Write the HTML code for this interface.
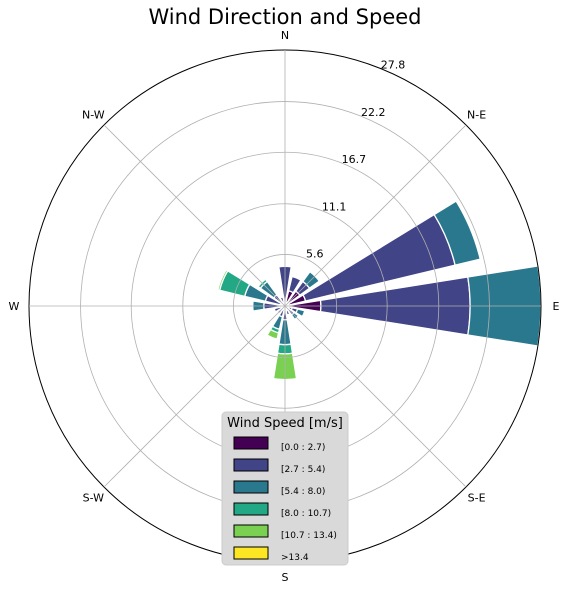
<!DOCTYPE html>
<html><head><meta charset="utf-8"><style>
body{margin:0;background:#fff;}
svg{display:block;font-family:"DejaVu Sans","Liberation Sans",sans-serif;}
</style></head><body>
<svg id="chart" width="568" height="591" viewBox="0 0 568 591">
<text x="285" y="24" font-size="21" text-anchor="middle">Wind Direction and Speed</text>
<g id="bars"></g>
<g id="grid"></g>
<g id="labels"></g>
<g id="legend"></g>
</svg>
<script>
const directions = ["N","NNE","NE","ENE","E","ESE","SE","SSE","S","SSW","SW","WSW","W","WNW","NW","NNW"];
// cumulative stacked values per direction (units of radial axis)
const cumN   = [0.5,4.3];
const cumNNE = [1.7,3.3];
const cumNE  = [2.0,3.3,4.6];
const cumENE = [2.3,19.0,21.8];
const cumE   = [3.9,20.1,27.8];
const cumESE = [0.8,1.4,2.2];
const cumSE  = [0.6,1.2,1.8];
const cumSSE = [0.5,1.0];
const cumS   = [0.5,1.5,4.2,5.2,8.0,8.1];
const cumSSW = [0.4,1.2,2.6,3.0,3.7];
const cumSW  = [0.5,1.0];
const cumWSW = [0.4,1.2];
const cumW   = [0.6,2.3,3.5];
const cumWNW = [0.5,2.2,4.5,7.3,7.5];
const cumNW  = [0.6,1.5,3.3,3.6];
const cumNNW = [0.3,1.0];
const stacks = [cumN,cumNNE,cumNE,cumENE,cumE,cumESE,cumSE,cumSSE,cumS,cumSSW,cumSW,cumWSW,cumW,cumWNW,cumNW,cumNNW];
const radialTicks = [5.6,11.1,16.7,22.2,27.8];
const binLabels = ["[0.0 : 2.7)","[2.7 : 5.4)","[5.4 : 8.0)","[8.0 : 10.7)","[10.7 : 13.4)",">13.4"];
const compassLabels = ["N","N-E","E","S-E","S","S-W","W","N-W"];

const colors = ["#440154","#414487","#2a788e","#22a884","#7ad151","#fde725"];
const cx=285, cy=306, R=256, rMax=27.8;
const NS="http://www.w3.org/2000/svg";
const rScale = v => v/rMax*R;
function pt(deg,r){const a=deg*Math.PI/180;return [cx+r*Math.sin(a), cy-r*Math.cos(a)];}
function mk(tag,attrs,parent){const e=document.createElementNS(NS,tag);for(const k in attrs)e.setAttribute(k,attrs[k]);parent.appendChild(e);return e;}

const bars=document.getElementById('bars');
const halfW=9;
stacks.forEach((st,i)=>{
  const c=i*22.5;
  let prev=0;
  st.forEach((v,j)=>{
    const r0=rScale(prev), r1=rScale(v);
    const a=pt(c-halfW,r0), b=pt(c-halfW,r1), d=pt(c+halfW,r1), e=pt(c+halfW,r0);
    const p=mk('path',{d:`M${a[0]},${a[1]} L${b[0]},${b[1]} A${r1},${r1} 0 0 1 ${d[0]},${d[1]} L${e[0]},${e[1]} A${r0},${r0} 0 0 0 ${a[0]},${a[1]} Z`,fill:colors[j],stroke:'#fff','stroke-width':1.3},bars);
    
    
    prev=v;
  });
});

const grid=document.getElementById('grid');
radialTicks.forEach((t,i)=>{
  const last=i===radialTicks.length-1;
  const c=mk('circle',{cx:cx,cy:cy,r:rScale(t),fill:'none',stroke:last?'#000':'#b0b0b0','stroke-width':last?1:0.8},grid);
  
  
});
for(let k=0;k<8;k++){
  const p=pt(k*45,R);
  const l=mk('line',{x1:cx,y1:cy,x2:p[0],y2:p[1],stroke:'#b0b0b0','stroke-width':0.8},grid);
  
  
}

const labels=document.getElementById('labels');
radialTicks.forEach(t=>{
  const p=pt(22.5,rScale(t));
  const tx=mk('text',{x:p[0]+10,y:p[1]-1,'font-size':11,'text-anchor':'middle'},labels);
  tx.textContent=t.toFixed(1);
  
  
});
compassLabels.forEach((s,k)=>{
  const p=pt(k*45,271);
  const tx=mk('text',{x:p[0],y:p[1]+4,'font-size':11,'text-anchor':'middle'},labels);
  tx.textContent=s;
  
  
});

const lg=document.getElementById('legend');
const box=mk('rect',{x:222,y:412,width:126,height:153,rx:4,fill:'#d9d9d9',stroke:'#cccccc'},lg);


const lt=mk('text',{x:285,y:427,'font-size':13,'text-anchor':'middle'},lg);
lt.textContent='Wind Speed [m/s]';


binLabels.forEach((s,j)=>{
  const y=443+j*22;
  const r=mk('rect',{x:234,y:y-6,width:34,height:12,fill:colors[j],stroke:'#000','stroke-width':1},lg);
  
  
  const t=mk('text',{x:281,y:y+7,'font-size':9},lg);
  t.textContent=s;
  
  
});
</script>
</body></html>
